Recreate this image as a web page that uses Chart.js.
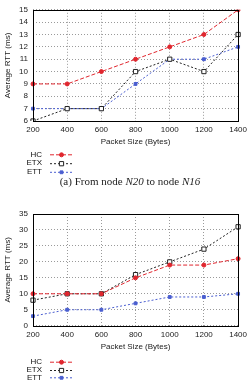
<!DOCTYPE html>
<html>
<head>
<meta charset="utf-8">
<script src="https://cdn.jsdelivr.net/npm/chart.js@4/dist/chart.umd.min.js"></script>
<style>
  html, body { margin: 0; padding: 0; background: #fff; }
  body { width: 251px; height: 387px; position: relative; overflow: hidden; }
  .box { position: absolute; left: 0; width: 251px; }
  #caption {
    position: absolute; left: 0; width: 260px; top: 175px;
    text-align: center; font: 11px "Liberation Serif", "DejaVu Serif", serif; color: #222;
  }
</style>
</head>
<body>
<div class="box" style="top:0;height:178px"><canvas id="chartA"></canvas></div>
<div id="caption">(a) From node <i>N20</i> to node <i>N16</i></div>
<div class="box" style="top:190px;height:197px"><canvas id="chartB"></canvas></div>
<script>
const packetSizes = [200, 400, 600, 800, 1000, 1200, 1400];
const seriesNames = ['HC', 'ETX', 'ETT'];

// (a) N20 -> N16
const hcA = [9, 9, 10, 11, 12, 13, 15];
const etxA = [6, 7, 7, 10, 11, 10, 13];
const ettA = [7, 7, 7, 9, 11, 11, 12];

// second pair of nodes
const hcB = [10, 10, 10, 15, 19, 19, 21];
const etxB = [8, 10, 10, 16, 20, 24, 31];
const ettB = [3, 5, 5, 7, 9, 9, 10];

const FONT = "'Liberation Sans', Arial, sans-serif";

const styles = [
    { borderColor: '#e0262e', backgroundColor: '#e0262e', borderDash: [4, 2], pointStyle: 'circle', pointRadius: 2 },
    { borderColor: '#222222', backgroundColor: '#ffffff', borderDash: [2, 2], pointStyle: 'rect', pointRadius: 3 },
    { borderColor: '#4a5ed0', backgroundColor: '#4a5ed0', borderDash: [2, 2], pointStyle: 'rect', pointRadius: 2 }
];

// frame + gnuplot-like legend
const framePlugin = {
    id: 'frame',
    afterDraw(chart, args, opts) {
        const ctx = chart.ctx;
        const a = chart.chartArea;
        ctx.save();
        ctx.strokeStyle = '#000';
        ctx.lineWidth = 1;
        ctx.setLineDash([]);
        ctx.strokeRect(Math.round(a.left) + 0.5, Math.round(a.top) + 0.5,
            Math.round(a.right - a.left), Math.round(a.bottom - a.top));

        ctx.font = '8px ' + FONT;
        ctx.textAlign = 'right';
        ctx.textBaseline = 'middle';
        chart.data.datasets.forEach((ds, i) => {
            const y = opts.legendY[i];
            ctx.fillStyle = '#111';
            ctx.fillText(ds.label, 42, y);
            ctx.strokeStyle = ds.borderColor;
            ctx.setLineDash(ds.borderDash);
            ctx.beginPath();
            ctx.moveTo(50, y + 0.5);
            ctx.lineTo(73, y + 0.5);
            ctx.stroke();
            ctx.setLineDash([]);
            ctx.fillStyle = ds.backgroundColor;
            ctx.strokeStyle = ds.borderColor;
            Chart.helpers.drawPoint(ctx, {
                pointStyle: ds.pointStyle, radius: ds.pointRadius, rotation: 0, borderWidth: 1
            }, 61.5, y + 0.5);
        });
        ctx.restore();
    }
};

function makeChart(id, values, yMin, yMax, yStep, topPad, bottomPad, legendY) {
    return new Chart(document.getElementById(id), {
        type: 'line',
        data: {
            labels: packetSizes,
            datasets: values.map((v, i) => ({
                label: seriesNames[i],
                data: v,
                borderWidth: 1,
                pointBorderWidth: 1,
                borderColor: styles[i].borderColor,
                backgroundColor: styles[i].backgroundColor,
                pointBackgroundColor: styles[i].backgroundColor,
                borderDash: styles[i].borderDash,
                pointStyle: styles[i].pointStyle,
                pointRadius: styles[i].pointRadius,
                tension: 0,
                fill: false
            }))
        },
        options: {
            responsive: true,
            maintainAspectRatio: false,
            animation: false,
            events: [],
            layout: { padding: { left: 0, right: 10, top: topPad, bottom: bottomPad } },
            plugins: {
                legend: { display: false },
                tooltip: { enabled: false },
                frame: { legendY: legendY }
            },
            scales: {
                x: {
                    offset: false,
                    grid: { color: '#9a9a9a', drawTicks: false },
                    border: { display: false, dash: [1, 2] },
                    ticks: { color: '#222', padding: 4, maxRotation: 0, autoSkip: false, font: { family: FONT, size: 8 } },
                    title: { display: true, text: 'Packet Size (Bytes)', color: '#222',
                        padding: { top: 0, bottom: 0 }, font: { family: FONT, size: 8 } },
                    afterFit: s => { s.height = 25.5; }
                },
                y: {
                    min: yMin,
                    max: yMax,
                    grid: { color: '#9a9a9a', drawTicks: false },
                    border: { display: false, dash: [1, 2] },
                    ticks: { stepSize: yStep, color: '#222', padding: 5, autoSkip: false, font: { family: FONT, size: 8 } },
                    title: { display: true, text: 'Average RTT (ms)', color: '#222',
                        padding: { top: 3, bottom: 0 }, font: { family: FONT, size: 8 } },
                    afterFit: s => { s.width = 33; }
                }
            }
        },
        plugins: [framePlugin]
    });
}

makeChart('chartA', [hcA, etxA, ettA], 6, 15, 1, 8, 31.5, [154.3, 163.2, 171.8]);
makeChart('chartB', [hcB, etxB, ettB], 0, 35, 5, 24, 35.8, [171.7, 180, 187.3]);
</script>
</body>
</html>
